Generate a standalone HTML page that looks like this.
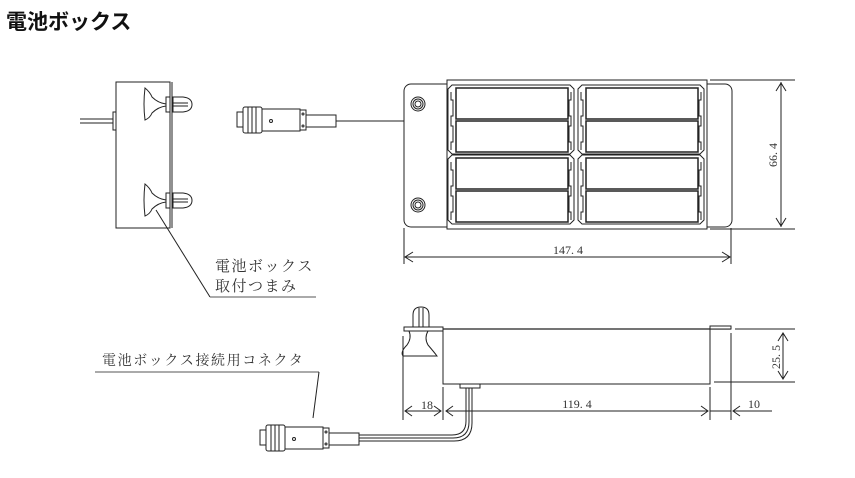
<!DOCTYPE html>
<html><head><meta charset="utf-8"><style>
html,body{margin:0;padding:0;background:#fff}
svg{display:block}
text{font-family:"Liberation Serif","Noto Serif CJK SC","Noto Sans CJK JP",serif;fill:#333;stroke:none}
</style></head><body>
<svg width="855" height="478" viewBox="0 0 855 478" xmlns="http://www.w3.org/2000/svg" fill="#ffffff" stroke="#222" stroke-width="1">
<text x="6" y="29" style="font-family:'Liberation Sans','Noto Sans CJK JP',sans-serif;font-size:21px;font-weight:bold;fill:#111">電池ボックス</text>

<!-- left side view -->
<line x1="80" y1="119" x2="113" y2="119"/><line x1="80" y1="123" x2="113" y2="123"/>
<rect x="113" y="112" width="3" height="18"/>
<rect x="116" y="82" width="54" height="146"/>
<line x1="172" y1="82" x2="172" y2="228"/>
<path d="M145 88 Q150 92 152 97 Q158 103 166 104 L166 106 Q158 107 152 113 Q150 118 145 120 Q143 104 145 88 Z"/>
<rect x="166" y="97" width="4" height="15"/>
<path d="M173 97 L183 97 Q192 98 192 104.5 Q192 111 183 112 L173 112 Z"/>
<line x1="173" y1="103" x2="188" y2="103"/><line x1="173" y1="106" x2="188" y2="106"/>
<path d="M145 184 Q150 188 152 193 Q158 199 166 200 L166 202 Q158 203 152 209 Q150 214 145 216 Q143 200 145 184 Z"/>
<rect x="166" y="193" width="4" height="15"/>
<path d="M173 193 L183 193 Q192 194 192 200.5 Q192 207 183 208 L173 208 Z"/>
<line x1="173" y1="199" x2="188" y2="199"/><line x1="173" y1="202" x2="188" y2="202"/>
<line x1="156" y1="210" x2="210" y2="297"/>
<line x1="210" y1="297" x2="316" y2="297" stroke="#555"/>
<text x="215" y="271" font-size="15" letter-spacing="1.5">電池ボックス</text>
<text x="215" y="291" font-size="15" letter-spacing="1.5">取付つまみ</text>

<!-- top connector -->
<rect x="237" y="112" width="6" height="15"/>
<rect x="243" y="107" width="19" height="26" rx="2"/>
<line x1="248" y1="107" x2="248" y2="133"/><line x1="252" y1="107" x2="252" y2="133"/><line x1="256" y1="107" x2="256" y2="133"/>
<rect x="262" y="109" width="38" height="22"/>
<circle cx="271" cy="121" r="1.5"/>
<rect x="300" y="110" width="6" height="20"/>
<circle cx="303" cy="114" r="1"/><circle cx="303" cy="126" r="1"/>
<rect x="306" y="115" width="30" height="12"/>
<line x1="336" y1="121" x2="405" y2="121"/>

<!-- top view -->
<rect x="404" y="84" width="328" height="143" rx="7"/>
<rect x="447" y="80" width="260" height="149"/>
<circle cx="418" cy="104" r="7"/><circle cx="418" cy="104" r="5"/><circle cx="418" cy="104" r="3"/>
<circle cx="418" cy="205" r="7"/><circle cx="418" cy="205" r="5"/><circle cx="418" cy="205" r="3"/>

<g transform="translate(0,0)">
<path d="M452 85 L570 85 L574 89 L574 150 L570 154 L452 154 L448 150 L448 89 Z"/>
<rect x="456" y="88" width="112" height="31" stroke-width="1.5"/>
<rect x="456" y="121" width="112" height="31" stroke-width="1.5"/>
<path fill="none" d="M451 92 v8 h2 v16 h-2 v10 h2 v16 h-2 v8"/>
<path fill="none" d="M571 92 v8 h-2 v16 h2 v10 h-2 v16 h2 v8"/>
</g>
<g transform="translate(130,0)">
<path d="M452 85 L570 85 L574 89 L574 150 L570 154 L452 154 L448 150 L448 89 Z"/>
<rect x="456" y="88" width="112" height="31" stroke-width="1.5"/>
<rect x="456" y="121" width="112" height="31" stroke-width="1.5"/>
<path fill="none" d="M451 92 v8 h2 v16 h-2 v10 h2 v16 h-2 v8"/>
<path fill="none" d="M571 92 v8 h-2 v16 h2 v10 h-2 v16 h2 v8"/>
</g>
<g transform="translate(0,70)">
<path d="M452 85 L570 85 L574 89 L574 150 L570 154 L452 154 L448 150 L448 89 Z"/>
<rect x="456" y="88" width="112" height="31" stroke-width="1.5"/>
<rect x="456" y="121" width="112" height="31" stroke-width="1.5"/>
<path fill="none" d="M451 92 v8 h2 v16 h-2 v10 h2 v16 h-2 v8"/>
<path fill="none" d="M571 92 v8 h-2 v16 h2 v10 h-2 v16 h2 v8"/>
</g>
<g transform="translate(130,70)">
<path d="M452 85 L570 85 L574 89 L574 150 L570 154 L452 154 L448 150 L448 89 Z"/>
<rect x="456" y="88" width="112" height="31" stroke-width="1.5"/>
<rect x="456" y="121" width="112" height="31" stroke-width="1.5"/>
<path fill="none" d="M451 92 v8 h2 v16 h-2 v10 h2 v16 h-2 v8"/>
<path fill="none" d="M571 92 v8 h-2 v16 h2 v10 h-2 v16 h2 v8"/>
</g>
<!-- dims -->
<line x1="710" y1="80" x2="795" y2="80"/><line x1="710" y1="229" x2="795" y2="229"/>
<line x1="781" y1="82" x2="781" y2="227"/>
<path fill="none" d="M776 91 L781 83 L786 91 M776 218 L781 226 L786 218"/>
<text transform="translate(777,155) rotate(-90)" font-size="12" text-anchor="middle">66. 4</text>
<line x1="404" y1="228" x2="404" y2="264"/><line x1="731" y1="228" x2="731" y2="264"/>
<line x1="405" y1="257" x2="730" y2="257"/>
<path fill="none" d="M413 252 L405 257 L413 262 M722 252 L730 257 L722 262"/>
<text x="568" y="254" font-size="12" text-anchor="middle">147. 4</text>

<!-- bottom side view -->
<path d="M443 329 L443 384 L710 384 L710 329 Z"/>
<line x1="404" y1="329" x2="731" y2="329" stroke-width="1.3"/>
<rect x="710" y="326" width="21" height="3"/>
<path d="M413 327 L413 315 Q413 307 421 307 Q429 307 429 315 L429 327 Z"/>
<line x1="419" y1="308" x2="419" y2="327"/><line x1="423" y1="308" x2="423" y2="327"/>
<rect x="404" y="327" width="39" height="4"/>
<path d="M409 331 Q412 338 407 345 Q400 352 403 356 L437 356 Q434 352 428 345 Q424 338 428 331 Z"/>
<rect x="460" y="384" width="20" height="4"/>
<line x1="403" y1="336" x2="403" y2="420"/><line x1="443" y1="387" x2="443" y2="420"/>
<line x1="710" y1="387" x2="710" y2="420"/><line x1="731" y1="333" x2="731" y2="420"/>
<line x1="405" y1="411" x2="441" y2="411"/><path fill="none" d="M412 406 L405 411 L412 416 M434 406 L441 411 L434 416"/>
<line x1="446" y1="411" x2="708" y2="411"/><path fill="none" d="M453 406 L446 411 L453 416 M701 406 L708 411 L701 416"/>
<line x1="710" y1="411" x2="731" y2="411"/>
<line x1="733" y1="411" x2="772" y2="411"/><path fill="none" d="M740 406 L733 411 L740 416"/>
<text x="427" y="409" font-size="12" text-anchor="middle">18</text>
<text x="577" y="408" font-size="12" text-anchor="middle">119. 4</text>
<text x="754" y="408" font-size="12" text-anchor="middle">10</text>
<line x1="735" y1="329" x2="795" y2="329"/><line x1="714" y1="382" x2="795" y2="382"/>
<line x1="783" y1="333" x2="783" y2="379"/>
<path fill="none" d="M778 341 L783 333 L788 341 M778 371 L783 379 L788 371"/>
<text transform="translate(780,357) rotate(-90)" font-size="12" text-anchor="middle">25. 5</text>

<!-- bottom cable + connector -->
<path fill="none" d="M358 435 L452 435 Q466 435 466 421 L466 388"/>
<path fill="none" d="M358 438 L453 438 Q469 438 469 422 L469 388"/>
<path fill="none" d="M358 441 L454 441 Q472 441 472 423 L472 388"/>
<rect x="260" y="430" width="6" height="15"/>
<rect x="266" y="425" width="19" height="26" rx="2"/>
<line x1="271" y1="425" x2="271" y2="451"/><line x1="275" y1="425" x2="275" y2="451"/><line x1="279" y1="425" x2="279" y2="451"/>
<rect x="285" y="427" width="38" height="22"/>
<circle cx="294" cy="439" r="1.5"/>
<rect x="323" y="428" width="6" height="20"/>
<circle cx="326" cy="432" r="1"/><circle cx="326" cy="444" r="1"/>
<rect x="329" y="433" width="30" height="12"/>
<text x="102" y="365" font-size="14" letter-spacing="1.6">電池ボックス接続用コネクタ</text>
<line x1="95" y1="372" x2="319" y2="372" stroke="#555"/>
<line x1="319" y1="372" x2="313" y2="418"/>
</svg>
</body></html>
